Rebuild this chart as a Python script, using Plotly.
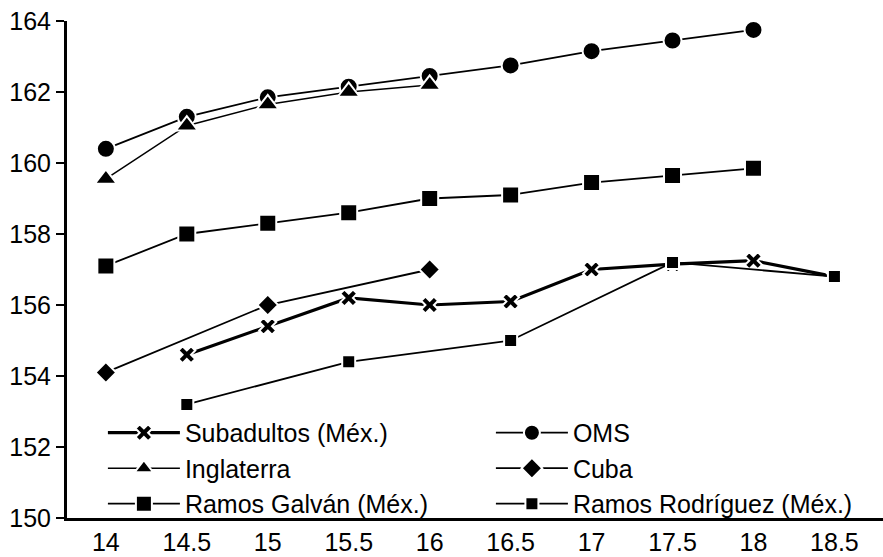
import plotly.graph_objects as go

# ---- data ----
tick_ages = [14, 14.5, 15, 15.5, 16, 16.5, 17, 17.5, 18, 18.5]
tick_labels = ["14", "14.5", "15", "15.5", "16", "16.5", "17", "17.5", "18", "18.5"]

sub_x = [14.5, 15, 15.5, 16, 16.5, 17, 17.5, 18, 18.5]
sub_y = [154.6, 155.4, 156.2, 156.0, 156.1, 157.0, 157.15, 157.25, 156.8]

oms_x = [14, 14.5, 15, 15.5, 16, 16.5, 17, 17.5, 18]
oms_y = [160.4, 161.3, 161.85, 162.15, 162.45, 162.75, 163.15, 163.45, 163.75]

ing_x = [14, 14.5, 15, 15.5, 16]
ing_y = [159.55, 161.05, 161.65, 162.0, 162.2]

cuba_x = [14, 15, 16]
cuba_y = [154.1, 156.0, 157.0]

rg_x = [14, 14.5, 15, 15.5, 16, 16.5, 17, 17.5, 18]
rg_y = [157.1, 158.0, 158.3, 158.6, 159.0, 159.1, 159.45, 159.65, 159.85]

rr_x = [14.5, 15.5, 16.5, 17.5, 18.5]
rr_y = [153.2, 154.4, 155.0, 157.2, 156.8]

y_ticks = [150, 152, 154, 156, 158, 160, 162, 164]

FONT = "Liberation Sans, Arial, Helvetica, sans-serif"

def trace(name, x, y, symbol, size, lw):
    return go.Scatter(
        x=x, y=y, name=name, mode="lines+markers",
        line=dict(color="black", width=lw),
        marker=dict(symbol=symbol, size=size, color="black",
                    line=dict(color="white", width=2)),
    )

fig = go.Figure()
fig.add_trace(trace("Subadultos (Méx.)", sub_x, sub_y, "x", 15, 3.2))
fig.add_trace(trace("OMS", oms_x, oms_y, "circle", 18, 1.8))
fig.add_trace(trace("Inglaterra", ing_x, ing_y, "triangle-up", 19, 1.5))
fig.add_trace(trace("Cuba", cuba_x, cuba_y, "diamond", 16, 1.8))
fig.add_trace(trace("Ramos Galván (Méx.)", rg_x, rg_y, "square", 17, 1.8))
fig.add_trace(trace("Ramos Rodríguez (Méx.)", rr_x, rr_y, "square", 13, 1.8))

fig.update_layout(
    width=883, height=557,
    margin=dict(l=67, r=0, t=21, b=39, autoexpand=False),
    paper_bgcolor="white", plot_bgcolor="white",
    font=dict(family=FONT, size=25, color="black"),
    showlegend=True,
    legend=dict(
        orientation="h", x=0.044, y=-0.018, xanchor="left", yanchor="bottom",
        entrywidth=301, entrywidthmode="pixels",
        bgcolor="rgba(0,0,0,0)", font=dict(size=25),
        itemwidth=72, tracegroupgap=0,
    ),
    xaxis=dict(
        range=[13.76, 18.8], tickmode="array", tickvals=tick_ages, ticktext=tick_labels,
        showgrid=False, zeroline=False, showline=True, linecolor="black", linewidth=3,
        ticks="", automargin=False,
    ),
    yaxis=dict(
        range=[150, 164], tickmode="array", tickvals=y_ticks, automargin=False,
        showgrid=False, zeroline=False, showline=True, linecolor="black", linewidth=3,
        ticks="outside", ticklen=8, tickwidth=1.5, tickcolor="black",
    ),
)

fig.write_html(
    "out.html",
    config={"displayModeBar": False},
    post_script="document.body.style.margin='0';document.body.style.padding='0';",
)
